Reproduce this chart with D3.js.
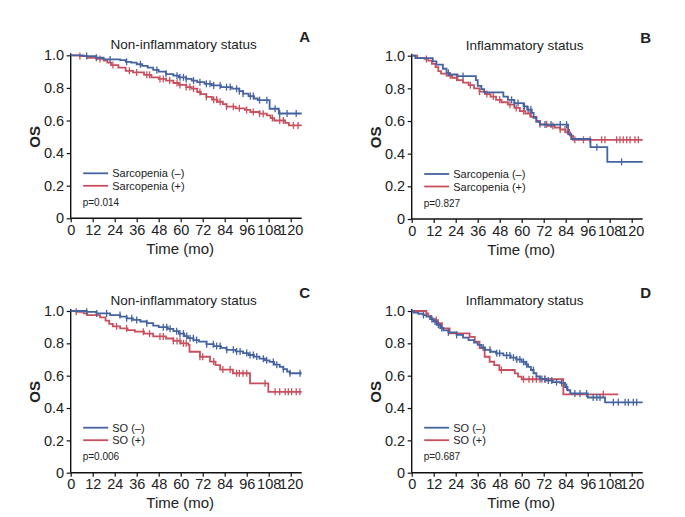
<!DOCTYPE html>
<html><head><meta charset="utf-8">
<script src="https://cdn.jsdelivr.net/npm/d3@7"></script>
<style>
html,body{margin:0;padding:0;background:#fff;}
svg text{font-family:"Liberation Sans",Arial,sans-serif;fill:#222;}
</style></head>
<body>
<svg id="chart" width="685" height="517"></svg>
<script>
// ---------- DATA ----------
const xTicks = [0,12,24,36,48,60,72,84,96,108,120];
const yTicks = [0,0.2,0.4,0.6,0.8,1.0];
const panelLetters = ["A","B","C","D"];
const panelTitles = ["Non-inflammatory status","Inflammatory status","Non-inflammatory status","Inflammatory status"];
const legendA = ["Sarcopenia (\u2013)","Sarcopenia (+)"];
const legendC = ["SO (\u2013)","SO (+)"];
const pValues = ["p=0.014","p=0.827","p=0.006","p=0.687"];

// Panel A: Sarcopenia (-) / (+), non-inflammatory
const aNegSteps = [[0,1],[7,0.995],[14,0.985],[18,0.975],[27,0.97],[30,0.96],[33,0.955],[36,0.945],[39,0.935],[42,0.925],[45,0.91],[48,0.9],[52,0.885],[56,0.875],[59,0.865],[63,0.855],[66,0.845],[69,0.835],[73,0.825],[77,0.815],[82,0.805],[88,0.795],[92,0.78],[94,0.765],[97,0.75],[100,0.735],[102,0.725],[108.5,0.672],[113.5,0.643],[126,0.643]];
const aNegCens = [8.7,14,21.5,30.5,38,47,52,58,59.6,61.5,63,67,70.5,74,76,78,81.5,85,87,90.5,92,94,98,99.6,103,107,111.5,114,118,123];
const aPosSteps = [[0,1],[5,0.995],[9,0.985],[14,0.978],[18,0.968],[20,0.955],[22,0.94],[26,0.925],[30,0.905],[34,0.895],[40,0.88],[44,0.865],[48,0.855],[52,0.845],[56,0.83],[59,0.818],[63,0.805],[66,0.795],[69,0.775],[71,0.762],[74,0.745],[77,0.728],[80,0.715],[83,0.7],[85,0.685],[90,0.675],[95,0.665],[98,0.652],[103,0.642],[107,0.632],[109,0.615],[111,0.6],[117,0.585],[119,0.57],[126,0.57]];
const aPosCens = [5,16,23,32,36,41.5,43,48.7,50.5,54,58,59.6,63,65,67,70.5,74,78,79.6,81.5,85,88.7,92,96,99.6,103,105,110,114,116,121.5,124];

// Panel B: Sarcopenia (-) / (+), inflammatory
const bNegSteps = [[0,1],[2,0.985],[11.5,0.965],[13.5,0.945],[17,0.92],[19,0.895],[20.5,0.885],[25,0.875],[35,0.85],[36,0.815],[38,0.795],[39.5,0.775],[50,0.75],[52.5,0.73],[56,0.71],[61,0.69],[63,0.67],[65.5,0.65],[66.5,0.62],[68,0.595],[70,0.578],[85.3,0.52],[87,0.49],[97.5,0.44],[106.7,0.35],[126,0.35]];
const bNegCens = [20,28,54.5,56,58,61.5,63.5,65,72.7,76,81,84.5,101,114.5];
const bPosSteps = [[0,1],[3,0.985],[7,0.98],[9,0.97],[11,0.95],[13,0.93],[14.5,0.905],[16,0.89],[19,0.878],[22,0.865],[25,0.85],[28,0.835],[31,0.82],[34,0.8],[37,0.78],[40,0.765],[43,0.75],[46,0.73],[49,0.715],[52.5,0.7],[56,0.68],[59,0.66],[62,0.645],[65,0.625],[68,0.6],[70,0.58],[74,0.57],[78,0.56],[81,0.548],[84,0.53],[86.5,0.51],[88,0.485],[126,0.485]];
const bPosCens = [8,21,24.5,32,37,41,44.5,48,53.6,57,61,64.5,70,73.6,77,81,83.6,86,89,93.7,97.3,103.6,105.4,111.8,113.6,115.4,117.3,119.1,121.8,123.6];

// Panel C: SO (-) / (+), non-inflammatory
const cNegSteps = [[0,1],[8.7,0.995],[14,0.985],[21.5,0.975],[27,0.965],[30.5,0.955],[34,0.945],[38,0.935],[41.5,0.925],[45,0.91],[48,0.9],[53,0.89],[56,0.875],[59,0.86],[62,0.845],[64,0.832],[67,0.82],[70,0.81],[74,0.795],[78,0.783],[82,0.772],[85,0.76],[90,0.75],[94,0.74],[97,0.728],[100,0.718],[103,0.705],[106,0.695],[108.5,0.685],[111,0.668],[114,0.655],[116,0.64],[118,0.625],[119.5,0.615],[126,0.615]];
const cNegCens = [8.7,14.2,19.6,26.9,30.5,33.3,36,41.5,50.5,52.4,54.2,57.8,59.6,61.5,63.3,65.1,66.9,68.7,74.2,77.8,79.6,81.5,85.1,88.7,90.5,92.4,96,97.8,99.6,101.5,105.1,106.9,110.5,112.4,116,119.6,125.1];
const cPosSteps = [[0,1],[3,0.995],[7,0.985],[9,0.975],[16,0.96],[19,0.94],[21,0.92],[23,0.905],[27,0.893],[31,0.882],[35,0.872],[40,0.86],[45,0.843],[52,0.83],[56,0.815],[60,0.8],[64.2,0.79],[64.8,0.748],[70.5,0.717],[76,0.687],[79,0.665],[81.5,0.638],[88.5,0.615],[97.8,0.553],[107.8,0.5],[126,0.5]];
const cPosCens = [3,25,30.5,39.6,43,48.7,50.5,56,58,59.6,61.5,63,70.5,72,78,83,87,90.5,92,94,96,106,111.5,114,117,118.7,120.5,123,125];

// Panel D: SO (-) / (+), inflammatory
const dNegSteps = [[0,1],[1,0.99],[3.6,0.983],[6.4,0.975],[8,0.965],[10,0.95],[11.8,0.935],[13.6,0.915],[15.5,0.895],[17.3,0.88],[20,0.868],[24.5,0.852],[28,0.835],[31,0.82],[34,0.805],[36,0.79],[38,0.775],[40,0.76],[43,0.748],[46,0.738],[50,0.725],[54,0.712],[57,0.7],[60,0.685],[62,0.67],[63.5,0.655],[65,0.635],[66.5,0.615],[68,0.595],[70,0.58],[73.6,0.57],[77,0.56],[81,0.555],[83.6,0.53],[85,0.51],[86.5,0.49],[96,0.465],[105.5,0.435],[126,0.435]];
const dNegCens = [6.4,11,12.7,14.5,16.4,20,24.5,39,42.7,46.4,48,51.8,53.6,55.5,57.3,59,61,62.7,66.4,71,72.7,74.5,76.4,79,81.8,84.5,89,91.8,95.4,99,101,102.7,110,112.7,116.4,118.2,120.9,122.7];
const dPosSteps = [[0,1],[8,0.985],[9,0.97],[10.5,0.955],[11.6,0.944],[14.3,0.925],[16.5,0.893],[20.7,0.862],[31.6,0.84],[34.4,0.81],[37,0.77],[39.8,0.717],[42.5,0.686],[45,0.665],[47.8,0.635],[56.2,0.614],[58,0.594],[60,0.578],[82.7,0.485],[112.7,0.485]];
const dPosCens = [8,13.4,48.9,61,64,66,68,70,72.7,104.5];

// ---------- LAYOUT / STYLE ----------
const BLUE = "#4563a0", RED = "#c8505e";
const layouts = [
  {x0:70.7, x1:301.7, yTop:55.3, yBot:218.3},
  {x0:411.7, x1:642.7, yTop:55.7, yBot:219},
  {x0:70.7, x1:301.7, yTop:311, yBot:472.7},
  {x0:411.7, x1:642.7, yTop:311, yBot:472.7}
];
const curves = [
  [[aNegSteps,aNegCens],[aPosSteps,aPosCens]],
  [[bNegSteps,bNegCens],[bPosSteps,bPosCens]],
  [[cNegSteps,cNegCens],[cPosSteps,cPosCens]],
  [[dNegSteps,dNegCens],[dPosSteps,dPosCens]]
];
const legends = [legendA,legendA,legendC,legendC];

const svg = d3.select("#chart");

function survAt(steps, t){
  const i = d3.bisector(d=>d[0]).right(steps, t) - 1;
  return steps[Math.max(0,i)][1];
}

layouts.forEach((L, pi) => {
  const x = d3.scaleLinear().domain([0,126]).range([L.x0, L.x1]);
  const y = d3.scaleLinear().domain([0,1]).range([L.yBot, L.yTop]);
  const g = svg.append("g");

  // axes
  const xAxis = d3.axisBottom(x).tickValues(xTicks).tickSize(4).tickSizeOuter(0).tickPadding(2.5);
  const yAxis = d3.axisLeft(y).tickValues(yTicks).tickSize(4).tickSizeOuter(0).tickPadding(2.5)
      .tickFormat(d => d===0 ? "0" : d3.format(".1f")(d));
  const gx = g.append("g").attr("transform",`translate(0,${L.yBot})`).call(xAxis);
  const gy = g.append("g").attr("transform",`translate(${L.x0},0)`).call(yAxis);
  [gx,gy].forEach(a=>{
    a.select(".domain").attr("stroke","#111").attr("stroke-width",1.4);
    a.selectAll(".tick line").attr("stroke","#111").attr("stroke-width",1.2);
    a.selectAll(".tick text").attr("font-size",14.5).attr("fill","#2a2a2a")
      .attr("font-family","'Liberation Sans Narrow','Arial Narrow','DejaVu Sans Condensed',sans-serif");
  });
  gx.select(".domain").attr("d",`M${L.x0},0H${L.x1}`);
  gy.select(".domain").attr("d",`M0,${L.yBot}V${L.yTop-2}`);

  // axis titles
  g.append("text").attr("x",(L.x0+L.x1)/2 - 6).attr("y",L.yBot+35.5)
    .attr("text-anchor","middle").attr("font-size",15).attr("fill","#2a2a2a")
    .attr("font-family","'Liberation Sans Narrow','Arial Narrow',sans-serif").text("Time (mo)");
  g.append("text").attr("transform",`translate(${L.x0-30.5},${(L.yTop+L.yBot)/2}) rotate(-90)`)
    .attr("text-anchor","middle").attr("font-size",15).attr("font-weight","bold").attr("fill","#333")
    .attr("font-family","'Liberation Sans Narrow','Arial Narrow',sans-serif").text("OS");

  // title & letter
  g.append("text").attr("x",L.x0+113).attr("y",L.yTop-6)
    .attr("text-anchor","middle").attr("font-size",13.5).text(panelTitles[pi]);
  g.append("text").attr("x",L.x1+3).attr("y",L.yTop-13)
    .attr("text-anchor","middle").attr("font-size",15).attr("font-weight","bold").attr("fill","#111").text(panelLetters[pi]);

  // curves
  const line = d3.line().x(d=>x(d[0])).y(d=>y(d[1])).curve(d3.curveStepAfter);
  const cols = [BLUE, RED];
  [1,0].forEach(ci=>{
    const [steps, cens] = curves[pi][ci];
    g.append("path").datum(steps).attr("d",line).attr("fill","none")
      .attr("stroke",cols[ci]).attr("stroke-width",1.8);
    g.selectAll(null).data(cens).enter().append("line")
      .attr("x1",d=>x(d)).attr("x2",d=>x(d))
      .attr("y1",d=>y(survAt(steps,d))-3.5).attr("y2",d=>y(survAt(steps,d))+3.5)
      .attr("stroke",cols[ci]).attr("stroke-width",1.3);
  });

  // legend
  const lg = legends[pi];
  [0,1].forEach(i=>{
    const ly = L.yBot - 45 + i*12.5;
    g.append("line").attr("x1",L.x0+12.5).attr("x2",L.x0+37.5).attr("y1",ly).attr("y2",ly)
      .attr("stroke",cols[i]).attr("stroke-width",1.8);
    g.append("text").attr("x",L.x0+41.5).attr("y",ly+4).attr("font-size",11).text(lg[i]);
  });
  g.append("text").attr("x",L.x0+12).attr("y",L.yBot-12.5).attr("font-size",10).text(pValues[pi]);
});
</script>
</body></html>
